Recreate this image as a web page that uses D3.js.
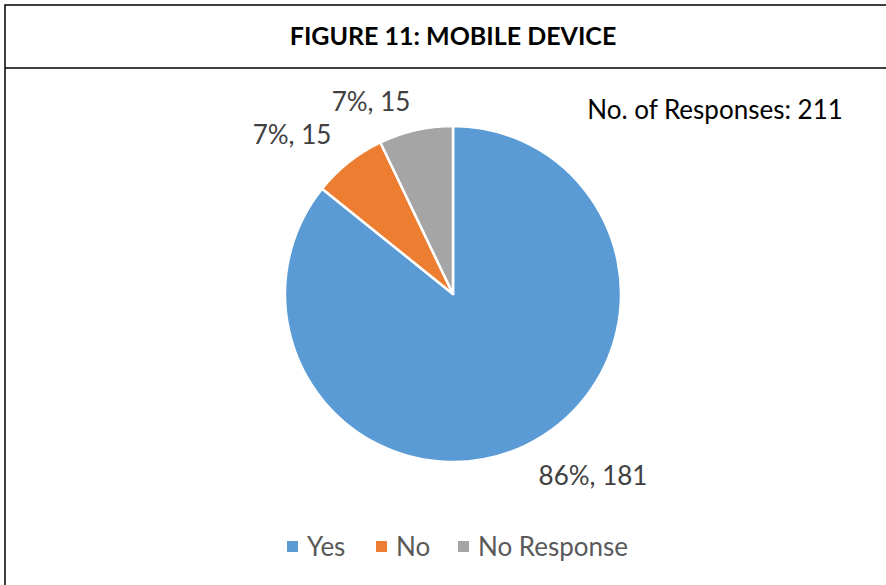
<!DOCTYPE html>
<html><head><meta charset="utf-8">
<script src="https://cdn.jsdelivr.net/npm/d3@7"></script>
<style>body{margin:0;background:#fff}</style>
</head><body>
<svg id="c" width="886" height="585"></svg>
<script>
const categories = ["Yes", "No", "No Response"];
const values = [181, 15, 15];
const percentLabels = ["86%", "7%", "7%"];
const colors = ["#5B9BD5", "#ED7D31", "#A5A5A5"];
const title = "FIGURE 11: MOBILE DEVICE";
const note = "No. of Responses: 211";

const svg = d3.select("#c");
const font = "Lato, 'Open Sans', sans-serif";

svg.append("rect").attr("x",5).attr("y",5).attr("width",890).attr("height",600)
  .attr("fill","#fff").attr("stroke","#000").attr("stroke-width",1.5);
svg.append("line").attr("x1",5).attr("x2",886).attr("y1",68).attr("y2",68)
  .attr("stroke","#000").attr("stroke-width",1.5);
svg.append("text").attr("x",453).attr("y",45).attr("text-anchor","middle")
  .attr("font-family",font).attr("font-weight","bold").attr("font-size",25)
  .attr("fill","#000").text(title);

const cx = 453, cy = 294, r = 168;
const pie = d3.pie().sort(null).value(d=>d);
const arcs = pie(values);
const arc = d3.arc().innerRadius(0).outerRadius(r);
const g = svg.append("g").attr("transform",`translate(${cx},${cy})`);
g.selectAll("path").data(arcs).enter().append("path")
  .attr("d",arc).attr("fill",(d,i)=>colors[i])
  .attr("stroke","#fff").attr("stroke-width",2.5).attr("stroke-linejoin","round");

// data labels
const labelPos = [[593,485],[292,144],[371,111]];
g.selectAll("text.lbl").data(arcs).enter().append("text")
  .attr("x",(d,i)=>labelPos[i][0]-cx).attr("y",(d,i)=>labelPos[i][1]-cy)
  .attr("text-anchor","middle").attr("font-family",font).attr("font-size",26)
  .attr("fill","#404040").text((d,i)=>`${percentLabels[i]}, ${values[i]}`);

svg.append("text").attr("x",715).attr("y",119).attr("text-anchor","middle")
  .attr("font-family",font).attr("font-size",26).attr("fill","#000").text(note);

// legend
const legendX = [287, 376, 458];
const lg = svg.append("g");
categories.forEach((c,i)=>{
  lg.append("rect").attr("x",legendX[i]).attr("y",541).attr("width",11).attr("height",11).attr("fill",colors[i]);
  lg.append("text").attr("x",legendX[i]+20).attr("y",556).attr("font-family",font)
    .attr("font-size",26).attr("fill","#595959").text(c);
});
</script>
</body></html>
